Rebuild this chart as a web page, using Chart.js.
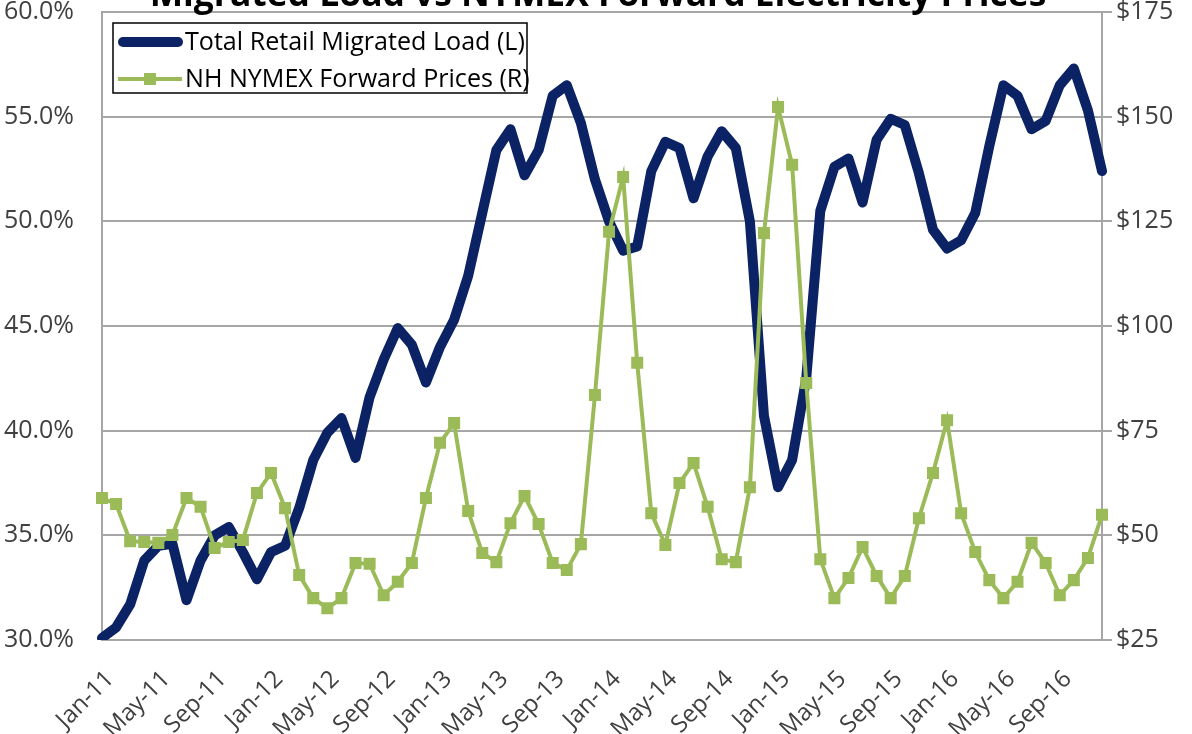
<!DOCTYPE html>
<html>
<head>
<meta charset="utf-8">
<script src="https://cdn.jsdelivr.net/npm/chart.js@4.4.1/dist/chart.umd.min.js"></script>
<style>
  body { margin: 0; background: #fff; }
  #wrap { width: 1192px; height: 734px; }
</style>
</head>
<body>
<div id="wrap"><canvas id="myChart"></canvas></div>
<script>
const chart_title = 'Migrated Load vs NYMEX Forward Electricity Prices';

const month_names = ['Jan', 'Feb', 'Mar', 'Apr', 'May', 'Jun', 'Jul', 'Aug', 'Sep', 'Oct', 'Nov', 'Dec'];
const years = ['11', '12', '13', '14', '15', '16'];

// Total Retail Migrated Load, percent (left axis)
const migrated_load = [
  30.1, 30.6, 31.7, 33.8, 34.5, 34.6, 31.9, 33.8, 35.0, 35.4, 34.2, 32.9,
  34.2, 34.5, 36.3, 38.6, 39.9, 40.6, 38.7, 41.6, 43.4, 44.9, 44.1, 42.3,
  44.0, 45.3, 47.4, 50.4, 53.4, 54.4, 52.2, 53.4, 56.0, 56.5, 54.7, 52.0,
  50.0, 48.6, 48.8, 52.4, 53.8, 53.5, 51.1, 53.1, 54.3, 53.5, 50.0, 40.7,
  37.3, 38.6, 42.5, 50.5, 52.6, 53.0, 50.9, 53.9, 54.9, 54.6, 52.3, 49.6,
  48.7, 49.1, 50.4, 53.6, 56.5, 56.0, 54.4, 54.8, 56.5, 57.3, 55.3, 52.4
];

// NH NYMEX forward prices, $ (right axis)
const forward_prices = [
  58.9, 57.5, 48.6, 48.4, 48.2, 50.1, 58.9, 56.8, 47.0, 48.4, 48.9, 60.1,
  64.9, 56.5, 40.5, 35.0, 32.6, 35.0, 43.4, 43.2, 35.7, 38.9, 43.4, 58.9,
  72.1, 76.8, 55.8, 45.8, 43.6, 52.9, 59.4, 52.7, 43.4, 41.7, 47.9, 83.5,
  122.5, 135.6, 91.2, 55.3, 47.7, 62.5, 67.3, 56.8, 44.3, 43.6, 61.5, 122.2,
  152.3, 138.5, 86.4, 44.3, 35.0, 39.8, 47.2, 40.3, 35.0, 40.3, 54.1, 64.9,
  77.5, 55.3, 46.0, 39.3, 35.0, 38.9, 48.2, 43.4, 35.7, 39.3, 44.6, 54.9
];

let labels = [];
for (let y = 0; y < years.length; y += 1) {
  for (let m = 0; m < month_names.length; m += 1) {
    labels.push(month_names[m] + '-' + years[y]);
  }
}

const blue = '#0b2265';
const green = '#9bbb59';
const grid_gray = '#a6a6a6';
const text_gray = '#404040';

// title (clipped at top) and legend box drawn on the canvas
const extras = {
  id: 'extras',
  afterDraw(chart) {
    const ctx = chart.ctx;
    ctx.save();
    // title
    ctx.font = 'bold 32px "Open Sans"';
    const tw = ctx.measureText(chart_title).width;
    const size = 32 * 897 / tw;
    ctx.font = 'bold ' + size + 'px "Open Sans"';
    ctx.fillStyle = '#000';
    ctx.textAlign = 'center';
    ctx.textBaseline = 'alphabetic';
    ctx.fillText(chart_title, 598, 6);

    // legend
    ctx.fillStyle = '#fff';
    ctx.fillRect(113, 23, 414, 70);
    ctx.strokeStyle = '#000';
    ctx.lineWidth = 1.5;
    ctx.strokeRect(113, 23, 414, 70);

    ctx.lineCap = 'round';
    ctx.strokeStyle = blue;
    ctx.lineWidth = 10;
    ctx.beginPath();
    ctx.moveTo(123, 42);
    ctx.lineTo(178, 42);
    ctx.stroke();

    ctx.lineCap = 'butt';
    ctx.strokeStyle = green;
    ctx.lineWidth = 4;
    ctx.beginPath();
    ctx.moveTo(118, 79);
    ctx.lineTo(182, 79);
    ctx.stroke();
    ctx.fillStyle = green;
    ctx.fillRect(144, 73, 12, 12);

    ctx.fillStyle = '#000';
    ctx.font = '23px "Open Sans"';
    const lw = ctx.measureText(chart.data.datasets[0].label).width;
    ctx.font = (23 * 340 / lw) + 'px "Open Sans"';
    ctx.textAlign = 'left';
    ctx.textBaseline = 'middle';
    ctx.fillText(chart.data.datasets[0].label, 185, 43);
    ctx.fillText(chart.data.datasets[1].label, 185, 80);
    ctx.restore();
  }
};

const ctx = document.getElementById('myChart').getContext('2d');
const myChart = new Chart(ctx, {
  type: 'line',
  data: {
    labels: labels,
    datasets: [{
      label: 'Total Retail Migrated Load (L)',
      data: migrated_load,
      yAxisID: 'yL',
      borderColor: blue,
      borderWidth: 10,
      borderCapStyle: 'round',
      borderJoinStyle: 'round',
      pointRadius: 0,
      tension: 0,
      order: 1
    }, {
      label: 'NH NYMEX Forward Prices (R)',
      data: forward_prices,
      yAxisID: 'yR',
      borderColor: green,
      backgroundColor: green,
      borderWidth: 4,
      pointStyle: 'rect',
      pointRadius: 8.5,
      pointBorderWidth: 0,
      tension: 0,
      order: 0
    }]
  },
  options: {
    responsive: true,
    maintainAspectRatio: false,
    animation: false,
    layout: { padding: 0 },
    plugins: {
      legend: { display: false },
      title: { display: false },
      tooltip: { enabled: false }
    },
    scales: {
      x: {
        offset: false,
        grid: { display: false },
        border: { display: true, color: grid_gray, width: 2 },
        ticks: {
          autoSkip: false,
          minRotation: 45,
          maxRotation: 45,
          padding: 17,
          labelOffset: 8,
          color: text_gray,
          font: { family: 'Open Sans', size: 24 },
          callback: function (val, i) { return i % 4 === 0 ? labels[i] : ''; }
        },
        afterFit: function (scale) { scale.height = 94; }
      },
      yL: {
        position: 'left',
        min: 30,
        max: 60,
        grid: { color: grid_gray, lineWidth: 2, drawTicks: true, tickLength: 24, tickColor: 'rgba(0,0,0,0)' },
        border: { display: true, color: grid_gray, width: 2 },
        ticks: {
          stepSize: 5,
          padding: 4,
          color: text_gray,
          font: { family: 'Open Sans', size: 25, lineHeight: 0.64 },
          callback: function (v) { return v.toFixed(1) + '%'; }
        },
        afterFit: function (scale) { scale.width = 102; }
      },
      yR: {
        position: 'right',
        min: 25,
        max: 175,
        grid: { drawOnChartArea: false, color: grid_gray, lineWidth: 2, tickLength: 10 },
        border: { display: true, color: grid_gray, width: 2 },
        ticks: {
          stepSize: 25,
          padding: 4,
          color: text_gray,
          font: { family: 'Open Sans', size: 25, lineHeight: 0.64 },
          callback: function (v) { return '$' + v; }
        },
        afterFit: function (scale) { scale.width = 90; }
      }
    }
  },
  plugins: [extras]
});
</script>
</body>
</html>
